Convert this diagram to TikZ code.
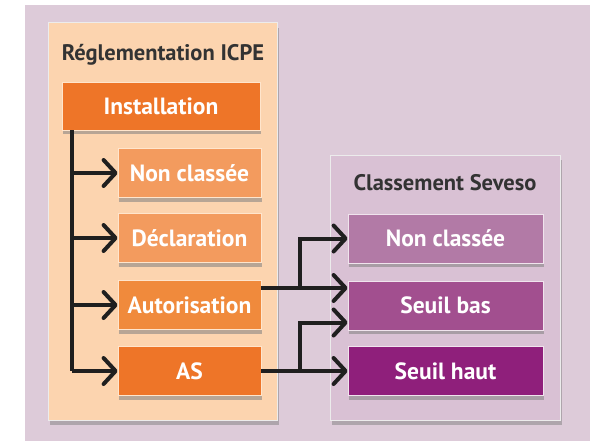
\documentclass[tikz,border=0pt]{standalone}
\usepackage{fontspec}
\setmainfont{PT Sans}
\usetikzlibrary{shadows, arrows.meta}

\definecolor{panelbg}{HTML}{DDCBD9}
\definecolor{peach}{HTML}{FCD4AF}
\definecolor{mauve}{HTML}{D9C1D4}
\definecolor{orangeA}{HTML}{EE7528}
\definecolor{orangeB}{HTML}{F39B5E}
\definecolor{orangeC}{HTML}{F08A3C}
\definecolor{plumA}{HTML}{B27AA6}
\definecolor{plumB}{HTML}{A24F8F}
\definecolor{plumC}{HTML}{8F1F7B}
\definecolor{titlegrey}{HTML}{333333}

\begin{document}
\begin{tikzpicture}[x=1pt, y=-1pt]
\tikzstyle{group} = [rectangle, draw=white!85!gray, line width=1pt, inner sep=0pt, drop shadow={shadow xshift=1.5pt, shadow yshift=-5pt, opacity=0.5}]
\tikzstyle{box} = [rectangle, draw=white!80!orange, line width=0.8pt, text=white, font=\bfseries\fontsize{23.5}{26}\selectfont, text centered, inner sep=0pt, minimum height=49pt, drop shadow={shadow xshift=1pt, shadow yshift=-4pt, opacity=0.55}]
\tikzstyle{title} = [text=titlegrey, font=\bfseries\fontsize{22.5}{26}\selectfont]
\tikzstyle{line} = [line width=4pt, draw=black!88]
\tikzstyle{arrow} = [line, -{Straight Barb[length=12pt, width=26pt, round]}]

\useasboundingbox (0,0) rectangle (593,441);
\fill[panelbg] (25,5) rectangle (590,441);

% ICPE side
\node (icpe) [group, fill=peach, minimum width=229pt, minimum height=397pt] at (162.5,221.5) {};
\node (icpetitle) [title] at (163,55) {Réglementation ICPE};
\node (inst) [box, fill=orangeA, minimum width=198pt, minimum height=48pt] at (161,106) {Installation};
\node (nc1) [box, fill=orangeB, minimum width=143pt] at (189.5,173) {Non classée};
\node (decl) [box, fill=orangeB, minimum width=143pt] at (189.5,238) {Déclaration};
\node (auto) [box, fill=orangeC, minimum width=143pt] at (189.5,305) {Autorisation};
\node (as) [box, fill=orangeA, minimum width=143pt] at (189.5,371) {AS};

% Seveso side
\node (seveso) [group, fill=mauve, minimum width=230pt, minimum height=265pt] at (445,287.5) {};
\node (sevesotitle) [title] at (445,183) {Classement Seveso};
\node (nc2) [box, draw=white!80!plumA, fill=plumA, minimum width=195pt] at (445.5,238.5) {Non classée};
\node (sb) [box, draw=white!80!plumA, fill=plumB, minimum width=195pt] at (445.5,305.5) {Seuil bas};
\node (sh) [box, draw=white!80!plumA, fill=plumC, minimum width=195pt] at (445.5,371) {Seuil haut};

% connectors
\coordinate (trunk) at (72,0);
\coordinate (split) at (300,0);
\draw [line] (trunk |- inst.south) -- (trunk |- as);
\foreach \n in {nc1, decl, auto, as}
  \draw [arrow] (trunk |- \n) -- (\n.west);

\coordinate (a1) at ([yshift=17pt]auto.east);
\coordinate (b1) at ([yshift=-17pt]sb.west);
\draw [arrow] (a1) -- (a1 -| sb.west);
\draw [arrow] (split |- a1) |- (nc2.west);
\draw [arrow] (as.east) -- (sh.west);
\draw [arrow] (split |- as) |- (b1);
\end{tikzpicture}
\end{document}
